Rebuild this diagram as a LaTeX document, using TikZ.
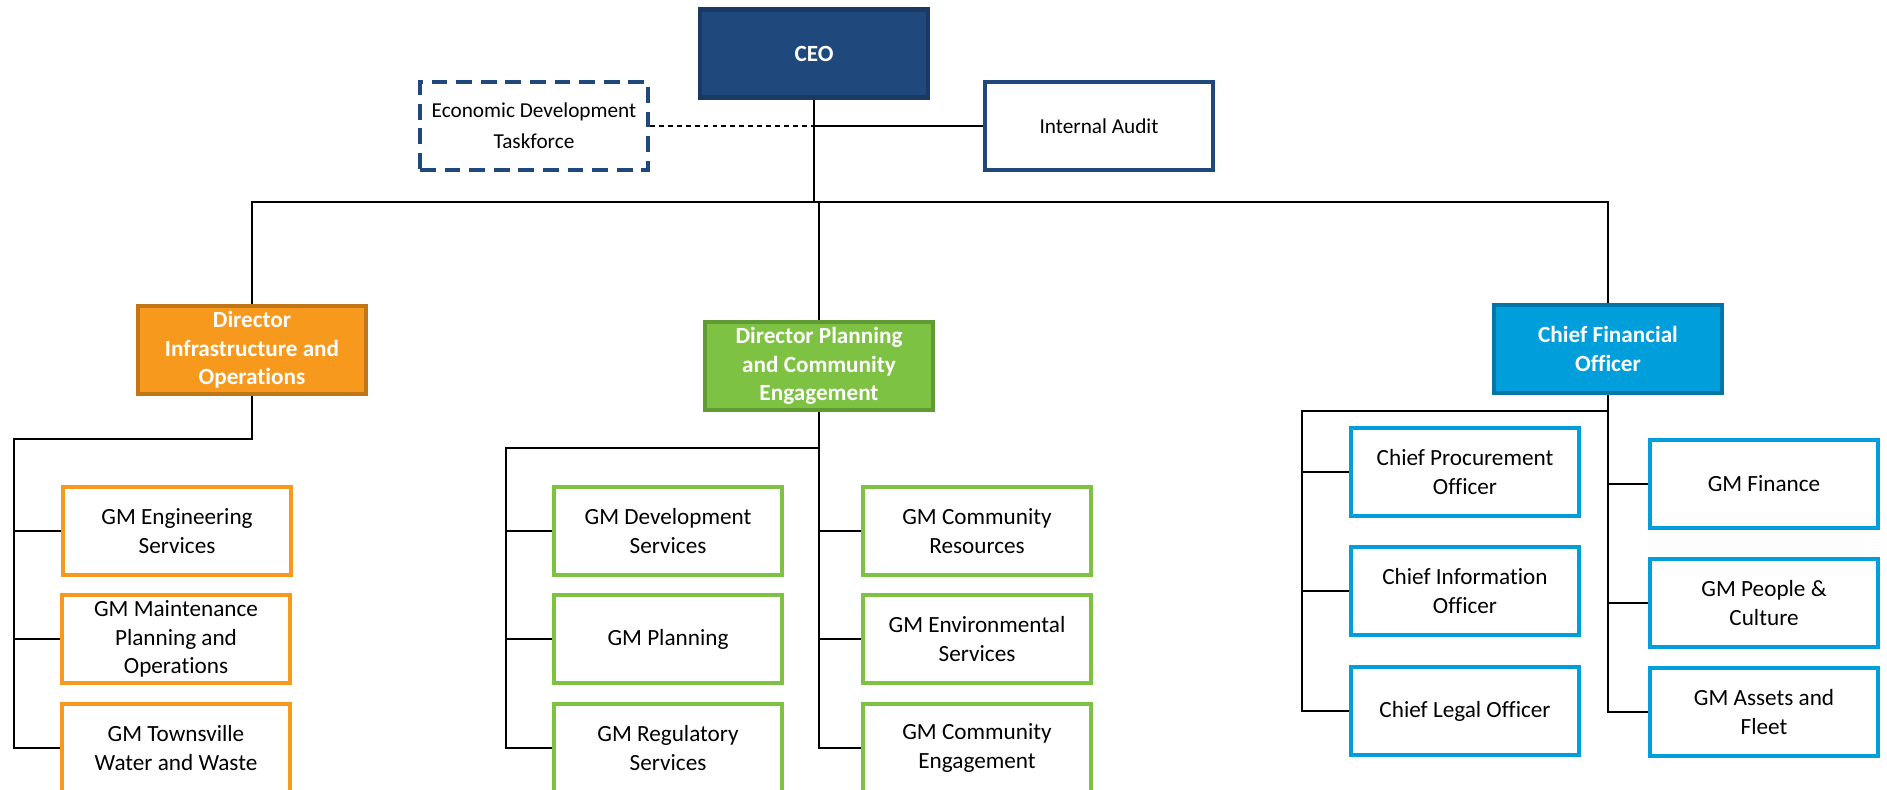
\documentclass[tikz,border=0pt]{standalone}
\usepackage{fontspec}
\setmainfont[RawFeature={-liga}]{Carlito}
\definecolor{ceoblue}{HTML}{1F497D}
\definecolor{ceoedge}{HTML}{1A3A63}
\definecolor{infraorange}{HTML}{F7991C}
\definecolor{infraedge}{HTML}{C07617}
\definecolor{plangreen}{HTML}{7DC242}
\definecolor{planedge}{HTML}{5F9A33}
\definecolor{cfoblue}{HTML}{009FDC}
\definecolor{cfoedge}{HTML}{0076A8}
\begin{document}
\begin{tikzpicture}[box/.style={draw,minimum width=4.56cm,minimum height=1.76cm,inner sep=2pt,align=center,font=\fontsize{13.2}{16.3}\selectfont},lead/.style={box,line width=2.6pt,text=white,font=\bfseries\fontsize{13.2}{16.3}\selectfont},unit/.style={box,line width=2.6pt,fill=white},side/.style={box,draw=ceoblue,font=\fontsize{12.1}{17.6}\selectfont},con/.style={line width=1.2pt}]
\useasboundingbox (0,0) rectangle (37.74,-15.78);
\clip (0,0) rectangle (37.74,-15.78);
% top level
\node[lead,fill=ceoblue,draw=ceoedge] (ceo) at (16.28,-1.07) {CEO};
\node[side,line width=2pt,dash pattern=on 9pt off 5pt] (econ) at (10.68,-2.52) {Economic Development\\Taskforce};
\node[side,line width=1.8pt] (audit) at (21.98,-2.52) {Internal Audit};
% directors
\node[lead,fill=infraorange,draw=infraedge] (dirI) at (5.04,-7.00) {Director\\Infrastructure and\\Operations};
\node[lead,fill=plangreen,draw=planedge] (dirP) at (16.38,-7.32) {Director Planning\\and Community\\Engagement};
\node[lead,fill=cfoblue,draw=cfoedge] (cfo) at (32.16,-6.98) {Chief Financial\\Officer};
% infrastructure
\node[unit,draw=infraorange] (eng) at (3.54,-10.62) {GM Engineering\\Services};
\node[unit,draw=infraorange] (maint) at (3.52,-12.78) {GM Maintenance\\Planning and\\Operations};
\node[unit,draw=infraorange] (town) at (3.52,-14.96) {GM Townsville\\Water and Waste};
% planning and community
\node[unit,draw=plangreen] (dev) at (13.36,-10.62) {GM Development\\Services};
\node[unit,draw=plangreen] (plan) at (13.36,-12.78) {GM Planning};
\node[unit,draw=plangreen] (reg) at (13.36,-14.96) {GM Regulatory\\Services};
\node[unit,draw=plangreen] (cres) at (19.54,-10.62) {GM Community\\Resources};
\node[unit,draw=plangreen] (env) at (19.54,-12.78) {GM Environmental\\Services};
\node[unit,draw=plangreen] (ceng) at (19.54,-14.96) {GM Community\\Engagement};
% finance
\node[unit,draw=cfoblue] (proc) at (29.30,-9.44) {Chief Procurement\\Officer};
\node[unit,draw=cfoblue] (info) at (29.30,-11.82) {Chief Information\\Officer};
\node[unit,draw=cfoblue] (legal) at (29.30,-14.22) {Chief Legal Officer};
\node[unit,draw=cfoblue] (fin) at (35.28,-9.68) {GM Finance};
\node[unit,draw=cfoblue] (ppl) at (35.28,-12.06) {GM People \&\\Culture};
\node[unit,draw=cfoblue] (assets) at (35.28,-14.24) {GM Assets and\\Fleet};
% lines
\coordinate (bus) at (16.30,-4.04);
\coordinate (oL) at (0.28,-8.78);
\coordinate (gL) at (10.12,-8.96);
\coordinate (bL) at (26.04,-8.22);
\draw[con,dash pattern=on 2.8pt off 2.3pt] (econ.east) -- (econ.east -| ceo.south);\draw[con] (econ.east -| ceo.south) -- (audit.west);
\draw[con] (ceo.south) -- (ceo.south |- bus);\draw[con] (dirI.north) |- (bus) -| (cfo.north);\draw[con] (dirP.north) -- (dirP.north |- bus);
\draw[con] (dirI.south) |- (oL) |- (town.west);\draw[con] (eng.west) -- (eng.west -| oL);\draw[con] (maint.west) -- (maint.west -| oL);
\draw[con] (dirP.south) |- (ceng.west);\draw[con] (dirP.south |- gL) -- (gL) |- (reg.west);\draw[con] (dev.west) -- (dev.west -| gL);\draw[con] (plan.west) -- (plan.west -| gL);\draw[con] (cres.west) -- (cres.west -| dirP.south);\draw[con] (env.west) -- (env.west -| dirP.south);
\draw[con] (cfo.south) |- (assets.west);\draw[con] (cfo.south |- bL) -- (bL) |- (legal.west);\draw[con] (proc.west) -- (proc.west -| bL);\draw[con] (info.west) -- (info.west -| bL);\draw[con] (fin.west) -- (fin.west -| cfo.south);\draw[con] (ppl.west) -- (ppl.west -| cfo.south);
\end{tikzpicture}
\end{document}
